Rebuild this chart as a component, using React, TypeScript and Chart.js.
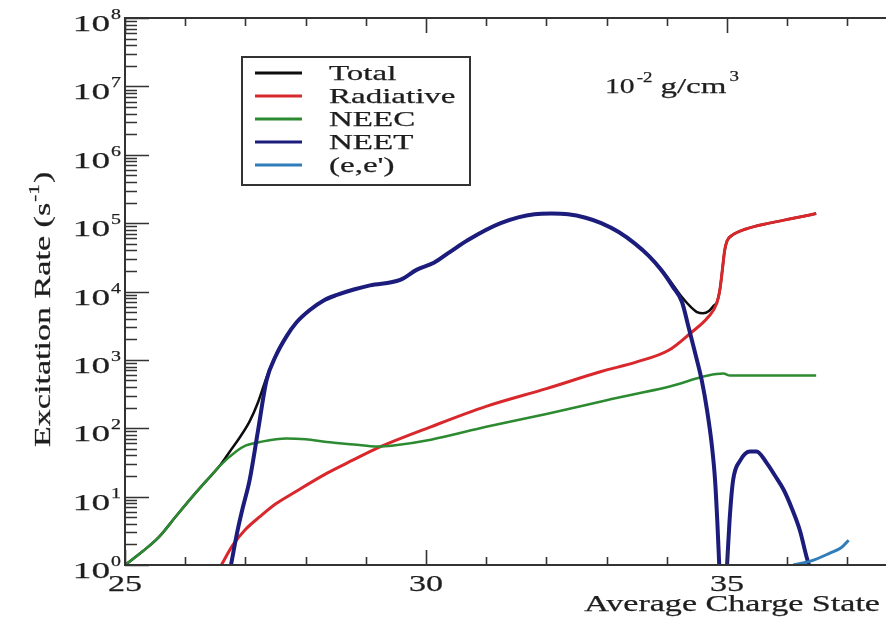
import React, { useEffect, useRef } from "react";
import { Chart, registerables } from "chart.js";

Chart.register(...registerables);

// ---------- data ----------
const totalX = [25.0, 25.3, 25.57, 25.85, 26.12, 26.35, 26.57, 26.75, 26.9, 27.07, 27.21, 27.35, 27.5, 27.68, 27.85, 28.07, 28.3, 28.52, 28.8, 29.07, 29.57, 29.85, 30.13, 30.4, 30.69, 31.24, 31.8, 32.08, 32.36, 32.65, 32.91, 33.2, 33.47, 33.7, 33.91, 34.1, 34.25, 34.4, 34.5, 34.6, 34.7, 34.78, 34.83, 34.88, 34.92, 34.96, 35.0, 35.08, 35.3, 35.7, 36.1, 36.48];
const totalY = [1.0, 1.6, 2.6, 5.2, 10, 17, 28, 47, 72, 126, 240, 550, 1150, 2240, 3550, 5370, 7410, 8910, 10700, 12300, 14800, 20900, 26300, 38000, 56200, 100000, 135000, 138000, 135000, 120000, 100000, 74100, 50100, 33100, 20900, 12600, 8300, 5900, 5000, 4800, 5200, 6200, 6900, 10500, 20000, 39800, 55000, 66100, 81300, 100000, 117500, 138000];

const radX = [26.6, 26.79, 27.0, 27.24, 27.5, 27.79, 28.35, 28.8, 29.19, 30.08, 31.0, 32.0, 32.91, 33.5, 34.03, 34.39, 34.69, 34.83, 34.88, 34.92, 34.96, 35.0, 35.08, 35.3, 35.7, 36.1, 36.48];
const radY = [1.0, 1.95, 3.3, 5.1, 7.8, 11.2, 21.9, 34.7, 51.3, 105, 209, 380, 676, 933, 1380, 2450, 4270, 6760, 10500, 20000, 39800, 55000, 66100, 81300, 100000, 117500, 138000];

const neecX = [25.0, 25.3, 25.57, 25.85, 26.12, 26.35, 26.57, 26.85, 27.01, 27.24, 27.68, 28.0, 28.35, 28.8, 29.19, 29.46, 30.08, 31.0, 32.0, 33.0, 34.0, 34.94, 35.05, 35.5, 36.0, 36.48];
const neecY = [1.0, 1.6, 2.6, 5.2, 10, 17, 28, 46, 56, 63, 71, 69, 63, 58, 54, 56, 68, 105, 162, 257, 398, 631, 589, 589, 589, 589];

const neetX = [26.76, 26.87, 26.96, 27.07, 27.21, 27.35, 27.5, 27.68, 27.85, 28.07, 28.3, 28.52, 28.8, 29.07, 29.57, 29.85, 30.13, 30.4, 30.69, 31.24, 31.8, 32.08, 32.36, 32.65, 32.91, 33.2, 33.47, 33.7, 33.91, 34.1, 34.25, 34.36, 34.47, 34.58, 34.67, 34.75, 34.8, 34.84, 34.87, 34.94, 35.0, 35.05, 35.1, 35.22, 35.38, 35.49, 35.66, 35.8, 35.94, 36.08, 36.21, 36.32, 36.36];
const neetY = [1.0, 3.2, 7.1, 17.4, 93, 500, 1120, 2190, 3550, 5370, 7410, 8910, 10700, 12300, 14800, 20900, 26300, 38000, 56200, 100000, 135000, 138000, 135000, 120000, 100000, 74100, 50100, 33100, 20400, 11700, 7080, 3020, 1260, 500, 178, 53.7, 17.8, 4.0, 1.0, null, 1.0, 5.75, 17.4, 33.9, 45.7, 45.7, 30.9, 20.0, 12.6, 6.6, 3.2, 1.32, 1.0];

const eeX = [36.1, 36.4, 36.7, 36.9, 37.02];
const eeY = [1.0, 1.15, 1.48, 1.8, 2.3];

const xMajorLabels = [25, 30, 35];
const yExponents = [0, 1, 2, 3, 4, 5, 6, 7, 8];
const legendLabels = ["Total", "Radiative", "NEEC", "NEET", "(e,e')"];

const COLORS = {
  total: "#0d0d0d",
  rad: "#d8282c",
  neec: "#2c8a30",
  neet: "#1c1c7c",
  ee: "#2f7dbb",
};

const FONT = '"Liberation Serif", "Times New Roman", serif';
const SX = 1.42;
const INK = "#1e1e1e";

function pts(xs: number[], ys: (number | null)[]) {
  return xs.map((x, i) => ({ x, y: ys[i] }));
}

function drawText(
  ctx: CanvasRenderingContext2D,
  text: string,
  x: number,
  y: number,
  size: number,
  sx: number,
  align: "left" | "center" | "right" = "left"
) {
  ctx.font = `${size}px ${FONT}`;
  ctx.textAlign = "left";
  ctx.textBaseline = "alphabetic";
  const w = ctx.measureText(text).width * sx;
  let ox = x;
  if (align === "center") ox = x - w / 2;
  if (align === "right") ox = x - w;
  ctx.save();
  ctx.translate(ox, y);
  ctx.scale(sx, 1);
  ctx.fillText(text, 0, 0);
  ctx.lineWidth = 0.25;
  ctx.strokeStyle = ctx.fillStyle as string;
  ctx.strokeText(text, 0, 0);
  ctx.restore();
  return w;
}

function textWidth(ctx: CanvasRenderingContext2D, text: string, size: number, sx: number) {
  ctx.font = `${size}px ${FONT}`;
  return ctx.measureText(text).width * sx;
}

const decor = {
  id: "decor",
  afterDraw(chart: any) {
    const { ctx, chartArea } = chart;
    const { left, right, top, bottom } = chartArea;
    const xs = chart.scales.x;
    const ys = chart.scales.y;
    ctx.save();
    ctx.lineCap = "butt";

    // frame lines
    ctx.strokeStyle = "#333333";
    ctx.lineWidth = 2;
    ctx.beginPath();
    ctx.moveTo(right, top);
    ctx.lineTo(left, top);
    ctx.lineTo(left, bottom);
    ctx.lineTo(right, bottom);
    ctx.stroke();

    // x ticks (bottom upward, top downward)
    ctx.lineWidth = 1.6;
    ctx.beginPath();
    for (let v = Math.ceil(xs.min); v <= xs.max; v++) {
      const px = Math.round(xs.getPixelForValue(v)) + 0.5;
      const len = v % 5 === 0 ? 15 : 8;
      ctx.moveTo(px, bottom);
      ctx.lineTo(px, bottom - len);
      ctx.moveTo(px, top);
      ctx.lineTo(px, top + len);
    }
    ctx.stroke();

    // y ticks (log)
    ctx.beginPath();
    for (let e = 0; e <= 8; e++) {
      for (let m = 1; m <= 9; m++) {
        const val = m * Math.pow(10, e);
        if (val > 1e8) break;
        const py = Math.round(ys.getPixelForValue(val)) + 0.5;
        const len = m === 1 ? 24 : 12;
        ctx.moveTo(left, py);
        ctx.lineTo(left + len, py);
      }
    }
    ctx.stroke();

    ctx.fillStyle = INK;
    // x tick labels
    xMajorLabels.forEach((v) => {
      const px = xs.getPixelForValue(v);
      drawText(ctx, String(v), px, bottom + 26, 24, SX, "center");
    });
    // y tick labels 10^n
    yExponents.forEach((n) => {
      const py = ys.getPixelForValue(Math.pow(10, n));
      const expW = textWidth(ctx, String(n), 14, SX);
      const expX = left - 4 - expW;
      drawText(ctx, String(n), expX, py + 1, 14, SX, "left");
      drawText(ctx, "10", expX - 1, py + 13, 24, 1.55, "right");
    });

    // x title
    drawText(ctx, "Average Charge State", right - 6, bottom + 46, 24, SX, "right");

    // y title (rotated)
    ctx.save();
    ctx.translate(50, 447);
    ctx.rotate(-Math.PI / 2);
    let cx = 0;
    cx += drawText(ctx, "Excitation Rate (s", cx, 0, 24, SX, "left");
    cx += 1;
    cx += drawText(ctx, "-1", cx, -11, 15, SX, "left");
    cx += 1;
    drawText(ctx, ")", cx, 0, 24, SX, "left");
    ctx.restore();

    // density annotation
    let ax = 605;
    ax += drawText(ctx, "10", ax, 93, 22, 1.35, "left");
    ax += 2;
    ax += drawText(ctx, "-2", ax, 82, 14, 1.35, "left");
    ax += 8;
    ax += drawText(ctx, "g/cm", ax, 93, 22, 1.5, "left");
    ax += 3;
    drawText(ctx, "3", ax, 81, 14, 1.35, "left");

    // legend box
    ctx.strokeStyle = "#333";
    ctx.lineWidth = 2;
    ctx.strokeRect(242, 57, 228, 128);
    const legColors = [COLORS.total, COLORS.rad, COLORS.neec, COLORS.neet, COLORS.ee];
    const rowY = [73, 96, 119, 142, 165];
    legendLabels.forEach((lab, i) => {
      ctx.strokeStyle = legColors[i];
      ctx.lineWidth = 3;
      ctx.beginPath();
      ctx.moveTo(255, rowY[i]);
      ctx.lineTo(302, rowY[i]);
      ctx.stroke();
      ctx.fillStyle = INK;
      drawText(ctx, lab, 329, rowY[i] + 7, 22, 1.5, "left");
    });

    ctx.restore();
  },
};

export default function App() {
  const ref = useRef<HTMLCanvasElement>(null);
  useEffect(() => {
    if (!ref.current) return;
    const common = {
      pointRadius: 0,
      fill: false,
      cubicInterpolationMode: "monotone" as const,
      spanGaps: false,
    };
    const chart = new Chart(ref.current, {
      type: "line",
      data: {
        datasets: [
          { label: "Total", data: pts(totalX, totalY), borderColor: COLORS.total, borderWidth: 2.5, order: 4, ...common },
          { label: "Radiative", data: pts(radX, radY), borderColor: COLORS.rad, borderWidth: 3, order: 3, ...common },
          { label: "NEEC", data: pts(neecX, neecY), borderColor: COLORS.neec, borderWidth: 2.5, order: 2, ...common },
          { label: "NEET", data: pts(neetX, neetY), borderColor: COLORS.neet, borderWidth: 4, order: 1, ...common },
          { label: "(e,e')", data: pts(eeX, eeY), borderColor: COLORS.ee, borderWidth: 3, order: 0, ...common },
        ] as any,
      },
      options: {
        animation: false,
        responsive: false,
        devicePixelRatio: 1,
        layout: { padding: { left: 125, right: 0, top: 18, bottom: 53 } },
        plugins: { legend: { display: false }, tooltip: { enabled: false } },
        scales: {
          x: { type: "linear", min: 25, max: 37.64, display: false },
          y: { type: "logarithmic", min: 1, max: 1e8, display: false },
        },
        elements: { point: { radius: 0 } },
      },
      plugins: [decor],
    } as any);
    return () => chart.destroy();
  }, []);
  return (
    <div style={{ position: "absolute", left: 0, top: 0, width: 886, height: 618, background: "#fff" }}>
      <canvas ref={ref} width={886} height={618} style={{ display: "block", width: 886, height: 618 }} />
    </div>
  );
}
